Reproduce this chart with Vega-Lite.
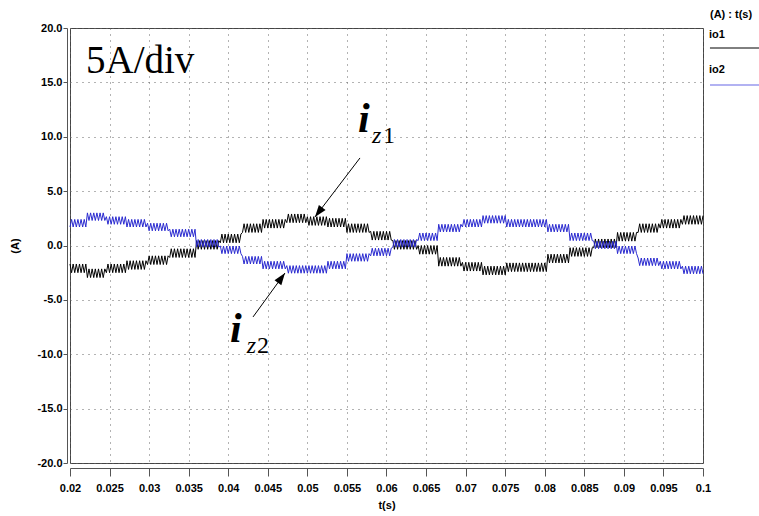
{
  "$schema": "https://vega.github.io/schema/vega-lite/v6.json",
  "width": 633,
  "height": 435,
  "autosize": {"type": "none"},
  "padding": {"left": 70, "top": 28, "right": 56, "bottom": 53},
  "background": "white",
  "config": {
    "locale": {"number": {"decimal": ".", "thousands": ",", "grouping": [3], "currency": ["$", ""], "minus": "-"}},
    "view": {"stroke": "#444444", "strokeWidth": 1},
    "axis": {
      "labelFont": "Liberation Sans", "labelFontWeight": "bold", "labelFontSize": 11, "labelColor": "#000000",
      "titleFont": "Liberation Sans", "titleFontWeight": "bold", "titleFontSize": 11, "titleColor": "#000000",
      "domainColor": "#555555", "tickColor": "#555555",
      "gridColor": "#666666", "gridDash": [1, 5], "gridWidth": 1, "gridOpacity": 1
    }
  },
  "resolve": {"scale": {"x": "independent", "y": "independent"}, "axis": {"x": "independent", "y": "independent"}},
  "layer": [
    {
      "data": {"values": [
        {"t":0.02,"io1":-1.7,"io2":1.7},{"t":0.0202,"io1":-2.5,"io2":2.4},{"t":0.0204,"io1":-1.7,"io2":1.7},{"t":0.0206,"io1":-2.5,"io2":2.4},{"t":0.0208,"io1":-1.7,"io2":1.7},{"t":0.021,"io1":-2.5,"io2":2.4},{"t":0.0212,"io1":-1.7,"io2":1.7},{"t":0.0214,"io1":-2.5,"io2":2.4},{"t":0.0216,"io1":-1.7,"io2":1.7},{"t":0.0218,"io1":-2.5,"io2":2.4},{"t":0.022,"io1":-1.7,"io2":1.7},
        {"t":0.0222,"io1":-2.95,"io2":3.0},{"t":0.0224,"io1":-2.15,"io2":2.3},{"t":0.0226,"io1":-2.95,"io2":3.0},{"t":0.0228,"io1":-2.15,"io2":2.3},{"t":0.023,"io1":-2.95,"io2":3.0},{"t":0.0232,"io1":-2.15,"io2":2.3},{"t":0.0234,"io1":-2.95,"io2":3.0},{"t":0.0236,"io1":-2.15,"io2":2.3},{"t":0.0238,"io1":-2.95,"io2":3.0},{"t":0.024,"io1":-2.15,"io2":2.3},{"t":0.0242,"io1":-2.95,"io2":3.0},{"t":0.0244,"io1":-2.15,"io2":2.3},
        {"t":0.0246,"io1":-2.5,"io2":2.65},{"t":0.0248,"io1":-1.7,"io2":1.95},{"t":0.025,"io1":-2.5,"io2":2.65},{"t":0.0252,"io1":-1.7,"io2":1.95},{"t":0.0254,"io1":-2.5,"io2":2.65},{"t":0.0256,"io1":-1.7,"io2":1.95},{"t":0.0258,"io1":-2.5,"io2":2.65},{"t":0.026,"io1":-1.7,"io2":1.95},{"t":0.0262,"io1":-2.5,"io2":2.65},{"t":0.0264,"io1":-1.7,"io2":1.95},{"t":0.0266,"io1":-2.5,"io2":2.65},{"t":0.0268,"io1":-1.7,"io2":1.95},{"t":0.027,"io1":-2.5,"io2":2.65},
        {"t":0.0272,"io1":-1.4,"io2":1.7},{"t":0.0274,"io1":-2.2,"io2":2.4},{"t":0.0276,"io1":-1.4,"io2":1.7},{"t":0.0278,"io1":-2.2,"io2":2.4},{"t":0.028,"io1":-1.4,"io2":1.7},{"t":0.0282,"io1":-2.2,"io2":2.4},{"t":0.0284,"io1":-1.4,"io2":1.7},{"t":0.0286,"io1":-2.2,"io2":2.4},{"t":0.0288,"io1":-1.4,"io2":1.7},{"t":0.029,"io1":-2.2,"io2":2.4},{"t":0.0292,"io1":-1.4,"io2":1.7},{"t":0.0294,"io1":-2.2,"io2":2.4},{"t":0.0296,"io1":-1.4,"io2":1.7},
        {"t":0.0298,"io1":-1.75,"io2":2.05},{"t":0.03,"io1":-0.95,"io2":1.35},{"t":0.0302,"io1":-1.75,"io2":2.05},{"t":0.0304,"io1":-0.95,"io2":1.35},{"t":0.0306,"io1":-1.75,"io2":2.05},{"t":0.0308,"io1":-0.95,"io2":1.35},{"t":0.031,"io1":-1.75,"io2":2.05},{"t":0.0312,"io1":-0.95,"io2":1.35},{"t":0.0314,"io1":-1.75,"io2":2.05},{"t":0.0316,"io1":-0.95,"io2":1.35},{"t":0.0318,"io1":-1.75,"io2":2.05},{"t":0.032,"io1":-0.95,"io2":1.35},{"t":0.0322,"io1":-1.75,"io2":2.05},{"t":0.0324,"io1":-0.95,"io2":1.35},
        {"t":0.0326,"io1":-1.1,"io2":1.5},{"t":0.0328,"io1":-0.3,"io2":0.8},{"t":0.033,"io1":-1.1,"io2":1.5},{"t":0.0332,"io1":-0.3,"io2":0.8},{"t":0.0334,"io1":-1.1,"io2":1.5},{"t":0.0336,"io1":-0.3,"io2":0.8},{"t":0.0338,"io1":-1.1,"io2":1.5},{"t":0.034,"io1":-0.3,"io2":0.8},{"t":0.0342,"io1":-1.1,"io2":1.5},{"t":0.0344,"io1":-0.3,"io2":0.8},{"t":0.0346,"io1":-1.1,"io2":1.5},{"t":0.0348,"io1":-0.3,"io2":0.8},{"t":0.035,"io1":-1.1,"io2":1.5},{"t":0.0352,"io1":-0.3,"io2":0.8},{"t":0.0354,"io1":-1.1,"io2":1.5},{"t":0.0356,"io1":-0.3,"io2":0.8},{"t":0.0358,"io1":-1.1,"io2":1.5},
        {"t":0.036,"io1":0.45,"io2":-0.15},{"t":0.0362,"io1":-0.35,"io2":0.55},{"t":0.0364,"io1":0.45,"io2":-0.15},{"t":0.0366,"io1":-0.35,"io2":0.55},{"t":0.0368,"io1":0.45,"io2":-0.15},{"t":0.037,"io1":-0.35,"io2":0.55},{"t":0.0372,"io1":0.45,"io2":-0.15},{"t":0.0374,"io1":-0.35,"io2":0.55},{"t":0.0376,"io1":0.45,"io2":-0.15},{"t":0.0378,"io1":-0.35,"io2":0.55},{"t":0.038,"io1":0.45,"io2":-0.15},{"t":0.0382,"io1":-0.35,"io2":0.55},{"t":0.0384,"io1":0.45,"io2":-0.15},{"t":0.0386,"io1":-0.35,"io2":0.55},{"t":0.0388,"io1":0.45,"io2":-0.15},
        {"t":0.039,"io1":0.25,"io2":-0.05},{"t":0.0392,"io1":1.05,"io2":-0.75},{"t":0.0394,"io1":0.25,"io2":-0.05},{"t":0.0396,"io1":1.05,"io2":-0.75},{"t":0.0398,"io1":0.25,"io2":-0.05},{"t":0.04,"io1":1.05,"io2":-0.75},{"t":0.0402,"io1":0.25,"io2":-0.05},{"t":0.0404,"io1":1.05,"io2":-0.75},{"t":0.0406,"io1":0.25,"io2":-0.05},{"t":0.0408,"io1":1.05,"io2":-0.75},{"t":0.041,"io1":0.25,"io2":-0.05},{"t":0.0412,"io1":1.05,"io2":-0.75},{"t":0.0414,"io1":0.25,"io2":-0.05},{"t":0.0416,"io1":1.05,"io2":-0.75},
        {"t":0.0418,"io1":1.2,"io2":-1.0},{"t":0.042,"io1":2.0,"io2":-1.7},{"t":0.0422,"io1":1.2,"io2":-1.0},{"t":0.0424,"io1":2.0,"io2":-1.7},{"t":0.0426,"io1":1.2,"io2":-1.0},{"t":0.0428,"io1":2.0,"io2":-1.7},{"t":0.043,"io1":1.2,"io2":-1.0},{"t":0.0432,"io1":2.0,"io2":-1.7},{"t":0.0434,"io1":1.2,"io2":-1.0},{"t":0.0436,"io1":2.0,"io2":-1.7},{"t":0.0438,"io1":1.2,"io2":-1.0},{"t":0.044,"io1":2.0,"io2":-1.7},{"t":0.0442,"io1":1.2,"io2":-1.0},
        {"t":0.0444,"io1":2.4,"io2":-2.15},{"t":0.0446,"io1":1.6,"io2":-1.45},{"t":0.0448,"io1":2.4,"io2":-2.15},{"t":0.045,"io1":1.6,"io2":-1.45},{"t":0.0452,"io1":2.4,"io2":-2.15},{"t":0.0454,"io1":1.6,"io2":-1.45},{"t":0.0456,"io1":2.4,"io2":-2.15},{"t":0.0458,"io1":1.6,"io2":-1.45},{"t":0.046,"io1":2.4,"io2":-2.15},{"t":0.0462,"io1":1.6,"io2":-1.45},{"t":0.0464,"io1":2.4,"io2":-2.15},{"t":0.0466,"io1":1.6,"io2":-1.45},{"t":0.0468,"io1":2.4,"io2":-2.15},{"t":0.047,"io1":1.6,"io2":-1.45},{"t":0.0472,"io1":2.4,"io2":-2.15},
        {"t":0.0474,"io1":2.1,"io2":-1.85},{"t":0.0476,"io1":2.9,"io2":-2.55},{"t":0.0478,"io1":2.1,"io2":-1.85},{"t":0.048,"io1":2.9,"io2":-2.55},{"t":0.0482,"io1":2.1,"io2":-1.85},{"t":0.0484,"io1":2.9,"io2":-2.55},{"t":0.0486,"io1":2.1,"io2":-1.85},{"t":0.0488,"io1":2.9,"io2":-2.55},{"t":0.049,"io1":2.1,"io2":-1.85},{"t":0.0492,"io1":2.9,"io2":-2.55},{"t":0.0494,"io1":2.1,"io2":-1.85},{"t":0.0496,"io1":2.9,"io2":-2.55},{"t":0.0498,"io1":2.1,"io2":-1.85},
        {"t":0.05,"io1":2.65,"io2":-2.55},{"t":0.0502,"io1":1.85,"io2":-1.85},{"t":0.0504,"io1":2.65,"io2":-2.55},{"t":0.0506,"io1":1.85,"io2":-1.85},{"t":0.0508,"io1":2.65,"io2":-2.55},{"t":0.051,"io1":1.85,"io2":-1.85},{"t":0.0512,"io1":2.65,"io2":-2.55},{"t":0.0514,"io1":1.85,"io2":-1.85},{"t":0.0516,"io1":2.65,"io2":-2.55},{"t":0.0518,"io1":1.85,"io2":-1.85},{"t":0.052,"io1":2.65,"io2":-2.55},{"t":0.0522,"io1":1.85,"io2":-1.85},{"t":0.0524,"io1":2.65,"io2":-2.55},
        {"t":0.0526,"io1":1.7,"io2":-1.45},{"t":0.0528,"io1":2.5,"io2":-2.15},{"t":0.053,"io1":1.7,"io2":-1.45},{"t":0.0532,"io1":2.5,"io2":-2.15},{"t":0.0534,"io1":1.7,"io2":-1.45},{"t":0.0536,"io1":2.5,"io2":-2.15},{"t":0.0538,"io1":1.7,"io2":-1.45},{"t":0.054,"io1":2.5,"io2":-2.15},{"t":0.0542,"io1":1.7,"io2":-1.45},{"t":0.0544,"io1":2.5,"io2":-2.15},{"t":0.0546,"io1":1.7,"io2":-1.45},{"t":0.0548,"io1":2.5,"io2":-2.15},
        {"t":0.055,"io1":1.2,"io2":-0.75},{"t":0.0552,"io1":2.0,"io2":-1.45},{"t":0.0554,"io1":1.2,"io2":-0.75},{"t":0.0556,"io1":2.0,"io2":-1.45},{"t":0.0558,"io1":1.2,"io2":-0.75},{"t":0.056,"io1":2.0,"io2":-1.45},{"t":0.0562,"io1":1.2,"io2":-0.75},{"t":0.0564,"io1":2.0,"io2":-1.45},{"t":0.0566,"io1":1.2,"io2":-0.75},{"t":0.0568,"io1":2.0,"io2":-1.45},{"t":0.057,"io1":1.2,"io2":-0.75},{"t":0.0572,"io1":2.0,"io2":-1.45},{"t":0.0574,"io1":1.2,"io2":-0.75},{"t":0.0576,"io1":2.0,"io2":-1.45},{"t":0.0578,"io1":1.2,"io2":-0.75},
        {"t":0.058,"io1":1.3,"io2":-0.95},{"t":0.0582,"io1":0.5,"io2":-0.25},{"t":0.0584,"io1":1.3,"io2":-0.95},{"t":0.0586,"io1":0.5,"io2":-0.25},{"t":0.0588,"io1":1.3,"io2":-0.95},{"t":0.059,"io1":0.5,"io2":-0.25},{"t":0.0592,"io1":1.3,"io2":-0.95},{"t":0.0594,"io1":0.5,"io2":-0.25},{"t":0.0596,"io1":1.3,"io2":-0.95},{"t":0.0598,"io1":0.5,"io2":-0.25},{"t":0.06,"io1":1.3,"io2":-0.95},{"t":0.0602,"io1":0.5,"io2":-0.25},{"t":0.0604,"io1":1.3,"io2":-0.95},{"t":0.0606,"io1":0.5,"io2":-0.25},
        {"t":0.0608,"io1":0.45,"io2":-0.15},{"t":0.061,"io1":-0.35,"io2":0.55},{"t":0.0612,"io1":0.45,"io2":-0.15},{"t":0.0614,"io1":-0.35,"io2":0.55},{"t":0.0616,"io1":0.45,"io2":-0.15},{"t":0.0618,"io1":-0.35,"io2":0.55},{"t":0.062,"io1":0.45,"io2":-0.15},{"t":0.0622,"io1":-0.35,"io2":0.55},{"t":0.0624,"io1":0.45,"io2":-0.15},{"t":0.0626,"io1":-0.35,"io2":0.55},{"t":0.0628,"io1":0.45,"io2":-0.15},{"t":0.063,"io1":-0.35,"io2":0.55},{"t":0.0632,"io1":0.45,"io2":-0.15},{"t":0.0634,"io1":-0.35,"io2":0.55},{"t":0.0636,"io1":0.45,"io2":-0.15},{"t":0.0638,"io1":-0.35,"io2":0.55},
        {"t":0.064,"io1":0,"io2":0.45},{"t":0.0642,"io1":-0.8,"io2":1.15},{"t":0.0644,"io1":0,"io2":0.45},{"t":0.0646,"io1":-0.8,"io2":1.15},{"t":0.0648,"io1":0,"io2":0.45},{"t":0.065,"io1":-0.8,"io2":1.15},{"t":0.0652,"io1":0,"io2":0.45},{"t":0.0654,"io1":-0.8,"io2":1.15},{"t":0.0656,"io1":0,"io2":0.45},{"t":0.0658,"io1":-0.8,"io2":1.15},{"t":0.066,"io1":0,"io2":0.45},{"t":0.0662,"io1":-0.8,"io2":1.15},{"t":0.0664,"io1":0,"io2":0.45},
        {"t":0.0666,"io1":-1.9,"io2":1.95},{"t":0.0668,"io1":-1.1,"io2":1.25},{"t":0.067,"io1":-1.9,"io2":1.95},{"t":0.0672,"io1":-1.1,"io2":1.25},{"t":0.0674,"io1":-1.9,"io2":1.95},{"t":0.0676,"io1":-1.1,"io2":1.25},{"t":0.0678,"io1":-1.9,"io2":1.95},{"t":0.068,"io1":-1.1,"io2":1.25},{"t":0.0682,"io1":-1.9,"io2":1.95},{"t":0.0684,"io1":-1.1,"io2":1.25},{"t":0.0686,"io1":-1.9,"io2":1.95},{"t":0.0688,"io1":-1.1,"io2":1.25},{"t":0.069,"io1":-1.9,"io2":1.95},{"t":0.0692,"io1":-1.1,"io2":1.25},{"t":0.0694,"io1":-1.9,"io2":1.95},
        {"t":0.0696,"io1":-1.55,"io2":1.7},{"t":0.0698,"io1":-2.35,"io2":2.4},{"t":0.07,"io1":-1.55,"io2":1.7},{"t":0.0702,"io1":-2.35,"io2":2.4},{"t":0.0704,"io1":-1.55,"io2":1.7},{"t":0.0706,"io1":-2.35,"io2":2.4},{"t":0.0708,"io1":-1.55,"io2":1.7},{"t":0.071,"io1":-2.35,"io2":2.4},{"t":0.0712,"io1":-1.55,"io2":1.7},{"t":0.0714,"io1":-2.35,"io2":2.4},{"t":0.0716,"io1":-1.55,"io2":1.7},{"t":0.0718,"io1":-2.35,"io2":2.4},{"t":0.072,"io1":-1.55,"io2":1.7},
        {"t":0.0722,"io1":-2.7,"io2":2.75},{"t":0.0724,"io1":-1.9,"io2":2.05},{"t":0.0726,"io1":-2.7,"io2":2.75},{"t":0.0728,"io1":-1.9,"io2":2.05},{"t":0.073,"io1":-2.7,"io2":2.75},{"t":0.0732,"io1":-1.9,"io2":2.05},{"t":0.0734,"io1":-2.7,"io2":2.75},{"t":0.0736,"io1":-1.9,"io2":2.05},{"t":0.0738,"io1":-2.7,"io2":2.75},{"t":0.074,"io1":-1.9,"io2":2.05},{"t":0.0742,"io1":-2.7,"io2":2.75},{"t":0.0744,"io1":-1.9,"io2":2.05},{"t":0.0746,"io1":-2.7,"io2":2.75},{"t":0.0748,"io1":-1.9,"io2":2.05},{"t":0.075,"io1":-2.7,"io2":2.75},
        {"t":0.0752,"io1":-1.6,"io2":1.7},{"t":0.0754,"io1":-2.4,"io2":2.4},{"t":0.0756,"io1":-1.6,"io2":1.7},{"t":0.0758,"io1":-2.4,"io2":2.4},{"t":0.076,"io1":-1.6,"io2":1.7},{"t":0.0762,"io1":-2.4,"io2":2.4},{"t":0.0764,"io1":-1.6,"io2":1.7},{"t":0.0766,"io1":-2.4,"io2":2.4},{"t":0.0768,"io1":-1.6,"io2":1.7},{"t":0.077,"io1":-2.4,"io2":2.4},{"t":0.0772,"io1":-1.6,"io2":1.7},{"t":0.0774,"io1":-2.4,"io2":2.4},{"t":0.0776,"io1":-1.6,"io2":1.7},{"t":0.0778,"io1":-2.4,"io2":2.4},{"t":0.078,"io1":-1.6,"io2":1.7},{"t":0.0782,"io1":-2.4,"io2":2.4},{"t":0.0784,"io1":-1.6,"io2":1.7},{"t":0.0786,"io1":-2.4,"io2":2.4},{"t":0.0788,"io1":-1.6,"io2":1.7},{"t":0.079,"io1":-2.4,"io2":2.4},{"t":0.0792,"io1":-1.6,"io2":1.7},{"t":0.0794,"io1":-2.4,"io2":2.4},{"t":0.0796,"io1":-1.6,"io2":1.7},{"t":0.0798,"io1":-2.4,"io2":2.4},{"t":0.08,"io1":-1.6,"io2":1.7},{"t":0.0802,"io1":-2.4,"io2":2.4},
        {"t":0.0804,"io1":-0.8,"io2":1.25},{"t":0.0806,"io1":-1.6,"io2":1.95},{"t":0.0808,"io1":-0.8,"io2":1.25},{"t":0.081,"io1":-1.6,"io2":1.95},{"t":0.0812,"io1":-0.8,"io2":1.25},{"t":0.0814,"io1":-1.6,"io2":1.95},{"t":0.0816,"io1":-0.8,"io2":1.25},{"t":0.0818,"io1":-1.6,"io2":1.95},{"t":0.082,"io1":-0.8,"io2":1.25},{"t":0.0822,"io1":-1.6,"io2":1.95},{"t":0.0824,"io1":-0.8,"io2":1.25},{"t":0.0826,"io1":-1.6,"io2":1.95},{"t":0.0828,"io1":-0.8,"io2":1.25},{"t":0.083,"io1":-1.6,"io2":1.95},
        {"t":0.0832,"io1":-0.2,"io2":0.45},{"t":0.0834,"io1":-1.0,"io2":1.15},{"t":0.0836,"io1":-0.2,"io2":0.45},{"t":0.0838,"io1":-1.0,"io2":1.15},{"t":0.084,"io1":-0.2,"io2":0.45},{"t":0.0842,"io1":-1.0,"io2":1.15},{"t":0.0844,"io1":-0.2,"io2":0.45},{"t":0.0846,"io1":-1.0,"io2":1.15},{"t":0.0848,"io1":-0.2,"io2":0.45},{"t":0.085,"io1":-1.0,"io2":1.15},{"t":0.0852,"io1":-0.2,"io2":0.45},{"t":0.0854,"io1":-1.0,"io2":1.15},{"t":0.0856,"io1":-0.2,"io2":0.45},{"t":0.0858,"io1":-1.0,"io2":1.15},{"t":0.086,"io1":-0.2,"io2":0.45},
        {"t":0.0862,"io1":-0.2,"io2":0.4},{"t":0.0864,"io1":0.6,"io2":-0.3},{"t":0.0866,"io1":-0.2,"io2":0.4},{"t":0.0868,"io1":0.6,"io2":-0.3},{"t":0.087,"io1":-0.2,"io2":0.4},{"t":0.0872,"io1":0.6,"io2":-0.3},{"t":0.0874,"io1":-0.2,"io2":0.4},{"t":0.0876,"io1":0.6,"io2":-0.3},{"t":0.0878,"io1":-0.2,"io2":0.4},{"t":0.088,"io1":0.6,"io2":-0.3},{"t":0.0882,"io1":-0.2,"io2":0.4},{"t":0.0884,"io1":0.6,"io2":-0.3},{"t":0.0886,"io1":-0.2,"io2":0.4},{"t":0.0888,"io1":0.6,"io2":-0.3},{"t":0.089,"io1":-0.2,"io2":0.4},
        {"t":0.0892,"io1":1.2,"io2":-0.75},{"t":0.0894,"io1":0.4,"io2":-0.05},{"t":0.0896,"io1":1.2,"io2":-0.75},{"t":0.0898,"io1":0.4,"io2":-0.05},{"t":0.09,"io1":1.2,"io2":-0.75},{"t":0.0902,"io1":0.4,"io2":-0.05},{"t":0.0904,"io1":1.2,"io2":-0.75},{"t":0.0906,"io1":0.4,"io2":-0.05},{"t":0.0908,"io1":1.2,"io2":-0.75},{"t":0.091,"io1":0.4,"io2":-0.05},{"t":0.0912,"io1":1.2,"io2":-0.75},{"t":0.0914,"io1":0.4,"io2":-0.05},{"t":0.0916,"io1":1.2,"io2":-0.75},
        {"t":0.0918,"io1":1.2,"io2":-1.15},{"t":0.092,"io1":2.0,"io2":-1.85},{"t":0.0922,"io1":1.2,"io2":-1.15},{"t":0.0924,"io1":2.0,"io2":-1.85},{"t":0.0926,"io1":1.2,"io2":-1.15},{"t":0.0928,"io1":2.0,"io2":-1.85},{"t":0.093,"io1":1.2,"io2":-1.15},{"t":0.0932,"io1":2.0,"io2":-1.85},{"t":0.0934,"io1":1.2,"io2":-1.15},{"t":0.0936,"io1":2.0,"io2":-1.85},{"t":0.0938,"io1":1.2,"io2":-1.15},{"t":0.094,"io1":2.0,"io2":-1.85},{"t":0.0942,"io1":1.2,"io2":-1.15},{"t":0.0944,"io1":2.0,"io2":-1.85},
        {"t":0.0946,"io1":1.6,"io2":-1.45},{"t":0.0948,"io1":2.4,"io2":-2.15},{"t":0.095,"io1":1.6,"io2":-1.45},{"t":0.0952,"io1":2.4,"io2":-2.15},{"t":0.0954,"io1":1.6,"io2":-1.45},{"t":0.0956,"io1":2.4,"io2":-2.15},{"t":0.0958,"io1":1.6,"io2":-1.45},{"t":0.096,"io1":2.4,"io2":-2.15},{"t":0.0962,"io1":1.6,"io2":-1.45},{"t":0.0964,"io1":2.4,"io2":-2.15},{"t":0.0966,"io1":1.6,"io2":-1.45},{"t":0.0968,"io1":2.4,"io2":-2.15},{"t":0.097,"io1":1.6,"io2":-1.45},{"t":0.0972,"io1":2.4,"io2":-2.15},
        {"t":0.0974,"io1":1.95,"io2":-1.9},{"t":0.0976,"io1":2.75,"io2":-2.6},{"t":0.0978,"io1":1.95,"io2":-1.9},{"t":0.098,"io1":2.75,"io2":-2.6},{"t":0.0982,"io1":1.95,"io2":-1.9},{"t":0.0984,"io1":2.75,"io2":-2.6},{"t":0.0986,"io1":1.95,"io2":-1.9},{"t":0.0988,"io1":2.75,"io2":-2.6},{"t":0.099,"io1":1.95,"io2":-1.9},{"t":0.0992,"io1":2.75,"io2":-2.6},{"t":0.0994,"io1":1.95,"io2":-1.9},{"t":0.0996,"io1":2.75,"io2":-2.6},{"t":0.0998,"io1":1.95,"io2":-1.9},{"t":0.1,"io1":2.75,"io2":-2.6}
      ]},
      "transform": [{"fold": ["io1", "io2"], "as": ["series", "value"]}],
      "mark": {"type": "line", "strokeWidth": 1},
      "encoding": {
        "x": {
          "field": "t", "type": "quantitative",
          "scale": {"domain": [0.02, 0.1], "nice": false, "zero": false},
          "axis": {
            "values": [0.02, 0.025, 0.03, 0.035, 0.04, 0.045, 0.05, 0.055, 0.06, 0.065, 0.07, 0.075, 0.08, 0.085, 0.09, 0.095, 0.1],
            "format": ".3~f", "offset": 5, "tickSize": 8, "labelPadding": 6,
            "labelFlush": false, "labelOverlap": false,
            "title": "t(s)", "titlePadding": 6, "grid": true
          }
        },
        "y": {
          "field": "value", "type": "quantitative",
          "scale": {"domain": [-20, 20], "nice": false, "zero": false},
          "axis": {
            "values": [-20, -15, -10, -5, 0, 5, 10, 15, 20],
            "format": ".1f", "offset": 3, "tickSize": 4, "labelPadding": 1,
            "labelFlush": false, "labelOverlap": false,
            "title": "(A)", "titlePadding": 16, "grid": true
          }
        },
        "color": {
          "field": "series", "type": "nominal",
          "scale": {"domain": ["io1", "io2"], "range": ["#000000", "#2a2ad0"]},
          "legend": null
        }
      }
    },
    {
      "data": {"values": [{}]},
      "mark": {"type": "text", "text": "5A/div", "font": "Liberation Serif", "fontSize": 39, "align": "left", "baseline": "alphabetic", "color": "#000000"},
      "encoding": {
        "x": {"datum": 0.02202, "type": "quantitative", "axis": null, "scale": {"domain": [0.02, 0.1], "nice": false, "zero": false}},
        "y": {"datum": 15.86, "type": "quantitative", "axis": null, "scale": {"domain": [-20, 20], "nice": false, "zero": false}}
      }
    },
    {
      "data": {"values": [{}]},
      "mark": {"type": "text", "text": "i", "font": "Liberation Serif", "fontSize": 42, "fontStyle": "italic", "fontWeight": "bold", "align": "left", "baseline": "alphabetic", "color": "#000000"},
      "encoding": {
        "x": {"datum": 0.0564, "type": "quantitative", "axis": null, "scale": {"domain": [0.02, 0.1], "nice": false, "zero": false}},
        "y": {"datum": 10.44, "type": "quantitative", "axis": null, "scale": {"domain": [-20, 20], "nice": false, "zero": false}}
      }
    },
    {
      "data": {"values": [{}]},
      "mark": {"type": "text", "text": "z", "font": "Liberation Serif", "fontSize": 24, "fontStyle": "italic", "align": "left", "baseline": "alphabetic", "color": "#000000"},
      "encoding": {
        "x": {"datum": 0.05817, "type": "quantitative", "axis": null, "scale": {"domain": [0.02, 0.1], "nice": false, "zero": false}},
        "y": {"datum": 9.43, "type": "quantitative", "axis": null, "scale": {"domain": [-20, 20], "nice": false, "zero": false}}
      }
    },
    {
      "data": {"values": [{}]},
      "mark": {"type": "text", "text": "1", "font": "Liberation Serif", "fontSize": 24, "align": "left", "baseline": "alphabetic", "color": "#000000"},
      "encoding": {
        "x": {"datum": 0.05956, "type": "quantitative", "axis": null, "scale": {"domain": [0.02, 0.1], "nice": false, "zero": false}},
        "y": {"datum": 9.43, "type": "quantitative", "axis": null, "scale": {"domain": [-20, 20], "nice": false, "zero": false}}
      }
    },
    {
      "data": {"values": [{}]},
      "mark": {"type": "text", "text": "i", "font": "Liberation Serif", "fontSize": 42, "fontStyle": "italic", "fontWeight": "bold", "align": "left", "baseline": "alphabetic", "color": "#000000"},
      "encoding": {
        "x": {"datum": 0.04022, "type": "quantitative", "axis": null, "scale": {"domain": [0.02, 0.1], "nice": false, "zero": false}},
        "y": {"datum": -8.87, "type": "quantitative", "axis": null, "scale": {"domain": [-20, 20], "nice": false, "zero": false}}
      }
    },
    {
      "data": {"values": [{}]},
      "mark": {"type": "text", "text": "z", "font": "Liberation Serif", "fontSize": 24, "fontStyle": "italic", "align": "left", "baseline": "alphabetic", "color": "#000000"},
      "encoding": {
        "x": {"datum": 0.04233, "type": "quantitative", "axis": null, "scale": {"domain": [0.02, 0.1], "nice": false, "zero": false}},
        "y": {"datum": -9.89, "type": "quantitative", "axis": null, "scale": {"domain": [-20, 20], "nice": false, "zero": false}}
      }
    },
    {
      "data": {"values": [{}]},
      "mark": {"type": "text", "text": "2", "font": "Liberation Serif", "fontSize": 24, "align": "left", "baseline": "alphabetic", "color": "#000000"},
      "encoding": {
        "x": {"datum": 0.04363, "type": "quantitative", "axis": null, "scale": {"domain": [0.02, 0.1], "nice": false, "zero": false}},
        "y": {"datum": -9.89, "type": "quantitative", "axis": null, "scale": {"domain": [-20, 20], "nice": false, "zero": false}}
      }
    },
    {
      "data": {"values": [{}]},
      "mark": {"type": "rule", "color": "#000000", "strokeWidth": 1},
      "encoding": {
        "x": {"datum": 0.05665, "type": "quantitative", "axis": null, "scale": {"domain": [0.02, 0.1], "nice": false, "zero": false}},
        "y": {"datum": 8.05, "type": "quantitative", "axis": null, "scale": {"domain": [-20, 20], "nice": false, "zero": false}},
        "x2": {"datum": 0.05096}, "y2": {"datum": 2.62}
      }
    },
    {
      "data": {"values": [{}]},
      "mark": {"type": "point", "shape": "M0,0L0.35,1L-0.35,1Z", "size": 576, "angle": 217.3, "filled": true, "color": "#000000", "opacity": 1},
      "encoding": {
        "x": {"datum": 0.05096, "type": "quantitative", "axis": null, "scale": {"domain": [0.02, 0.1], "nice": false, "zero": false}},
        "y": {"datum": 2.62, "type": "quantitative", "axis": null, "scale": {"domain": [-20, 20], "nice": false, "zero": false}}
      }
    },
    {
      "data": {"values": [{}]},
      "mark": {"type": "rule", "color": "#000000", "strokeWidth": 1},
      "encoding": {
        "x": {"datum": 0.04313, "type": "quantitative", "axis": null, "scale": {"domain": [0.02, 0.1], "nice": false, "zero": false}},
        "y": {"datum": -6.57, "type": "quantitative", "axis": null, "scale": {"domain": [-20, 20], "nice": false, "zero": false}},
        "x2": {"datum": 0.04717}, "y2": {"datum": -2.53}
      }
    },
    {
      "data": {"values": [{}]},
      "mark": {"type": "point", "shape": "M0,0L0.35,1L-0.35,1Z", "size": 576, "angle": 36, "filled": true, "color": "#000000", "opacity": 1},
      "encoding": {
        "x": {"datum": 0.04717, "type": "quantitative", "axis": null, "scale": {"domain": [0.02, 0.1], "nice": false, "zero": false}},
        "y": {"datum": -2.53, "type": "quantitative", "axis": null, "scale": {"domain": [-20, 20], "nice": false, "zero": false}}
      }
    },
    {
      "data": {"values": [{}]},
      "mark": {"type": "text", "text": "(A) : t(s)", "font": "Liberation Sans", "fontWeight": "bold", "fontSize": 11, "align": "left", "baseline": "alphabetic", "color": "#000000"},
      "encoding": {
        "x": {"datum": 0.10088, "type": "quantitative", "axis": null, "scale": {"domain": [0.02, 0.1], "nice": false, "zero": false}},
        "y": {"datum": 20.9, "type": "quantitative", "axis": null, "scale": {"domain": [-20, 20], "nice": false, "zero": false}}
      }
    },
    {
      "data": {"values": [{}]},
      "mark": {"type": "text", "text": "io1", "font": "Liberation Sans", "fontWeight": "bold", "fontSize": 11, "align": "left", "baseline": "alphabetic", "color": "#000000"},
      "encoding": {
        "x": {"datum": 0.10076, "type": "quantitative", "axis": null, "scale": {"domain": [0.02, 0.1], "nice": false, "zero": false}},
        "y": {"datum": 19.08, "type": "quantitative", "axis": null, "scale": {"domain": [-20, 20], "nice": false, "zero": false}}
      }
    },
    {
      "data": {"values": [{}]},
      "mark": {"type": "rule", "color": "#000000", "strokeWidth": 1},
      "encoding": {
        "x": {"datum": 0.10088, "type": "quantitative", "axis": null, "scale": {"domain": [0.02, 0.1], "nice": false, "zero": false}},
        "x2": {"datum": 0.1072},
        "y": {"datum": 18.16, "type": "quantitative", "axis": null, "scale": {"domain": [-20, 20], "nice": false, "zero": false}}
      }
    },
    {
      "data": {"values": [{}]},
      "mark": {"type": "text", "text": "io2", "font": "Liberation Sans", "fontWeight": "bold", "fontSize": 11, "align": "left", "baseline": "alphabetic", "color": "#000000"},
      "encoding": {
        "x": {"datum": 0.10076, "type": "quantitative", "axis": null, "scale": {"domain": [0.02, 0.1], "nice": false, "zero": false}},
        "y": {"datum": 15.86, "type": "quantitative", "axis": null, "scale": {"domain": [-20, 20], "nice": false, "zero": false}}
      }
    },
    {
      "data": {"values": [{}]},
      "mark": {"type": "rule", "color": "#9999ee", "strokeWidth": 1.5},
      "encoding": {
        "x": {"datum": 0.10088, "type": "quantitative", "axis": null, "scale": {"domain": [0.02, 0.1], "nice": false, "zero": false}},
        "x2": {"datum": 0.1072},
        "y": {"datum": 14.76, "type": "quantitative", "axis": null, "scale": {"domain": [-20, 20], "nice": false, "zero": false}}
      }
    }
  ]
}
